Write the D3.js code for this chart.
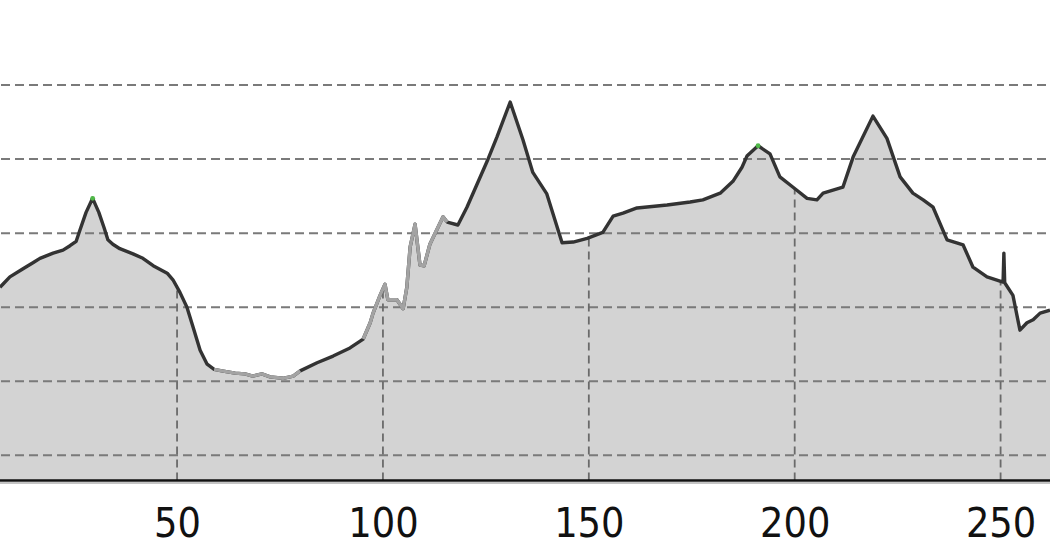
<!DOCTYPE html>
<html>
<head>
<meta charset="utf-8">
<script src="https://cdn.jsdelivr.net/npm/d3@7"></script>
<style>
  html, body { margin: 0; padding: 0; background: #fff; }
  svg { display: block; }
</style>
</head>
<body>
<svg id="chart" width="1050" height="560"></svg>
<script>
// ---- data ----
const distance = [
  7.0, 7.7, 9.4, 12.6, 15.0, 16.7, 19.9, 22.3, 24.0, 25.5, 26.4, 27.9, 29.5, 31.0, 32.3, 33.2, 34.4, 36.1, 39.3, 41.7,
  44.2, 47.6, 49.0, 50.7, 52.4, 53.9, 55.6, 57.3, 59.0, 60.9, 64.1, 66.5, 68.4, 70.6, 72.6, 75.7, 78.2, 79.9, 84.0, 87.9,
  92.0, 95.2, 96.9, 97.6, 99.3, 100.5, 101.2, 103.4, 104.9, 105.8, 106.6, 107.8, 109.0, 110.0, 111.4, 114.6, 115.6, 118.2, 120.4, 125.3,
  127.7, 130.9, 134.0, 136.4, 139.8, 143.5, 146.2, 149.6, 153.4, 155.9, 158.3, 161.7, 169.0, 174.6, 177.7, 181.9, 185.0, 187.2, 188.4, 191.1,
  194.0, 196.4, 199.6, 203.0, 205.4, 206.9, 211.7, 214.2, 219.0, 222.4, 225.6, 228.7, 231.2, 233.6, 237.0, 240.9, 243.3, 246.7, 250.6, 250.8,
  251.0, 253.0, 254.7, 256.4, 257.9, 259.6, 262.0
];
const elevation = [
  327, 331, 341, 352, 360, 366, 373, 377, 383, 389, 404, 428, 447, 428, 407, 391, 385, 379, 372, 366,
  356, 346, 337, 320, 300, 273, 242, 223, 216, 214, 211, 210, 207, 210, 206, 204, 207, 214, 225, 234,
  245, 257, 279, 292, 316, 331, 310, 310, 298, 327, 381, 412, 357, 356, 385, 422, 415, 411, 435, 497,
  530, 577, 526, 482, 453, 387, 388, 393, 401, 423, 427, 434, 438, 442, 445, 454, 470, 489, 504, 518,
  507, 476, 462, 447, 445, 454, 462, 503, 558, 528, 476, 454, 445, 435, 391, 384, 354, 341, 334, 373,
  333, 316, 269, 279, 283, 292, 296
];
const grayRanges = [[58.8, 80.0], [95.0, 115.7]];   // lighter-coloured stretches of the profile
const markerDistances = [29.5, 191.1];              // green summit markers
const xTicks = [50, 100, 150, 200, 250];
const yGrid = [100, 200, 300, 400, 500, 600];

// ---- layout ----
const W = 1050, H = 560;
const baseY = 480.5;
const svg = d3.select("#chart");

const pts = distance.map((d, i) => ({ d, e: elevation[i] }));

const x = d3.scaleLinear().domain([7, 262]).range([0, W]);
const y = d3.scaleLinear().domain([66, 714.8]).range([baseY, 0]);

const area = d3.area().x(p => x(p.d)).y0(baseY).y1(p => y(p.e));
const line = d3.line().x(p => x(p.d)).y(p => y(p.e));

svg.append("defs").append("clipPath").attr("id", "areaClip")
  .append("path").attr("d", area(pts));

// fill
svg.append("path").attr("d", area(pts)).attr("fill", "#d3d3d3");

// horizontal gridlines
svg.append("g").selectAll("line").data(yGrid).join("line")
  .attr("x1", 0).attr("x2", W)
  .attr("y1", v => y(v)).attr("y2", v => y(v))
  .attr("stroke", "#7a7a7a").attr("stroke-width", 2)
  .attr("stroke-dasharray", "9,5")
  .attr("stroke-dashoffset", -1);

// vertical gridlines (clipped to profile)
svg.append("g").attr("clip-path", "url(#areaClip)")
  .selectAll("line").data(xTicks).join("line")
  .attr("x1", v => x(v)).attr("x2", v => x(v))
  .attr("y1", baseY).attr("y2", 0)
  .attr("stroke", "#6a6a6a").attr("stroke-width", 1.8)
  .attr("stroke-dasharray", "8,5");

// profile line
svg.append("path").attr("d", line(pts))
  .attr("fill", "none").attr("stroke", "#333").attr("stroke-width", 3.4)
  .attr("stroke-linejoin", "round");

grayRanges.forEach(([a, b]) => {
  const seg = pts.filter(p => p.d >= a && p.d <= b);
  svg.append("path").attr("d", line(seg))
    .attr("fill", "none").attr("stroke", "#a3a3a3").attr("stroke-width", 3.4)
    .attr("stroke-linejoin", "round");
});

// green summit markers
svg.append("g").selectAll("circle").data(markerDistances).join("circle")
  .attr("cx", d => x(d))
  .attr("cy", d => y(pts.find(p => p.d === d).e))
  .attr("r", 2.4).attr("fill", "#4fb848");

// baseline
svg.append("line").attr("x1", 0).attr("x2", W).attr("y1", baseY + 2.5).attr("y2", baseY + 2.5)
  .attr("stroke", "#b0b0b0").attr("stroke-width", 1.5);
svg.append("line").attr("x1", 0).attr("x2", W).attr("y1", baseY).attr("y2", baseY)
  .attr("stroke", "#111").attr("stroke-width", 2.4);

// x axis labels
const axis = d3.axisBottom(x).tickValues(xTicks).tickSize(0).tickPadding(27.5).tickFormat(d3.format("d"));
const gx = svg.append("g").attr("transform", `translate(0,${baseY})`).call(axis);
gx.select(".domain").remove();
gx.selectAll("text")
  .attr("font-family", "'DejaVu Sans Condensed', 'DejaVu Sans', sans-serif")
  .style("font-stretch", "condensed")
  .attr("font-size", 41)
  .attr("fill", "#111");
</script>
</body>
</html>
